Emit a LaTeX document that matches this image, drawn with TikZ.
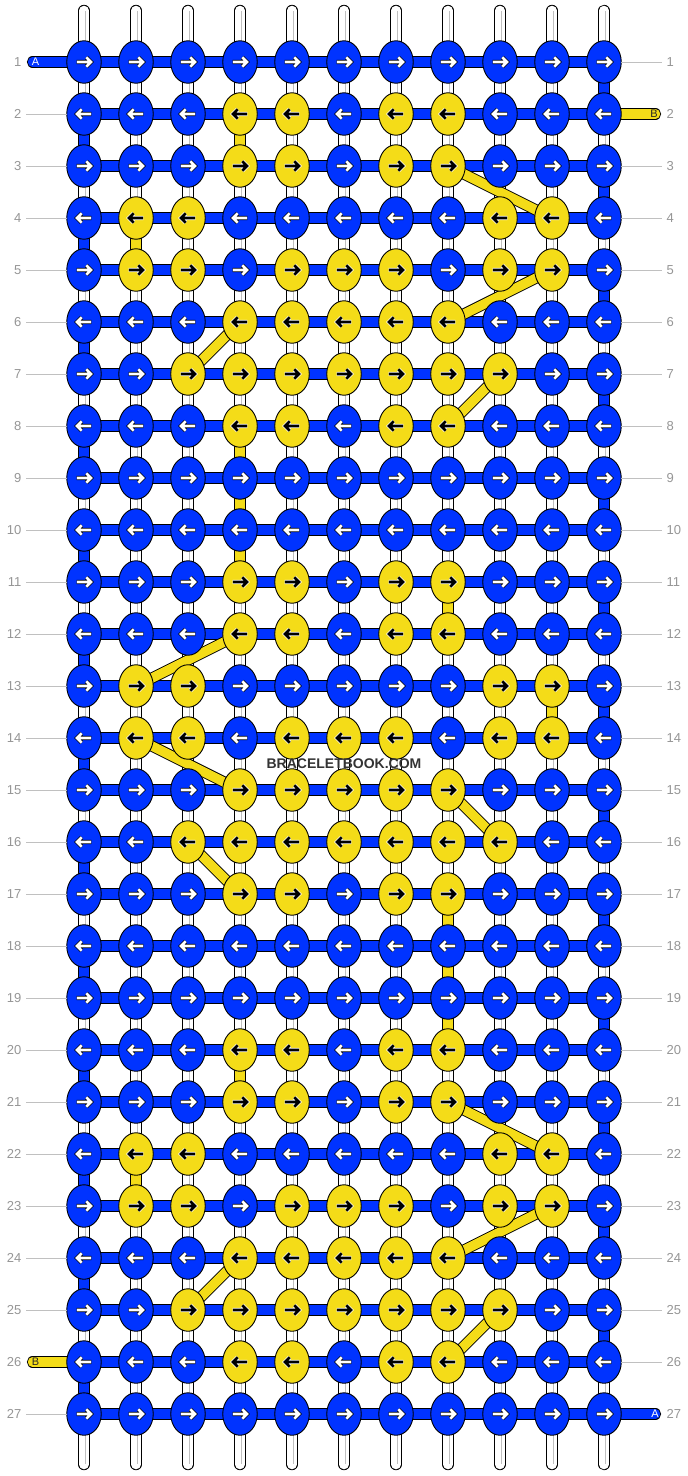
\documentclass[tikz,border=0pt]{standalone}
\usepackage{fontspec}
\setmainfont{Liberation Sans}
\usetikzlibrary{shapes.geometric}
\definecolor{bbblue}{RGB}{0,51,255}
\definecolor{bbyellow}{RGB}{244,220,24}
\definecolor{lblgray}{RGB}{150,150,150}
\definecolor{rulegray}{RGB}{192,192,192}
\definecolor{wmgray}{RGB}{51,51,51}
\tikzset{
  knotbase/.style={ellipse, draw=black, line width=0.9pt, minimum width=34.5pt, minimum height=42.5pt, inner sep=0pt, outer sep=0pt},
  strandout/.style={line width=11.4pt, black, line cap=round},
  strandin/.style={line width=9.6pt, white, line cap=round},
  strandmid/.style={line width=0.8pt, black!25},
  cordout/.style={line width=11.2pt, black},
  cordin/.style={line width=9.4pt},
  endout/.style={line width=11.2pt, black, line cap=round},
  endin/.style={line width=9.4pt, line cap=round},
  arrbg/.style={line width=4.2pt, miter limit=10},
  arrfg/.style={line width=2.6pt},
  rowlbl/.style={font=\fontsize{13}{13}\selectfont, text=lblgray, inner sep=0pt},
  rowrule/.style={rulegray, line width=0.9pt},
  endlbl/.style={font=\fontsize{11}{11}\selectfont, inner sep=0pt},
}
\begin{document}
\begin{tikzpicture}[x=1pt, y=-1pt]
\useasboundingbox (0,0) rectangle (688,1476);
\fill[white] (0,0) rectangle (688,1476);
% grid coordinates
\foreach \r in {1,...,27}{
  \foreach \c in {1,...,11}{
    \coordinate (p-\r-\c) at ({84+52*(\c-1)},{62+52*(\r-1)});
  }
}
% yellow knots
\foreach \r/\cl in {2/{4,5,7,8},3/{4,5,7,8},4/{2,3,9,10},5/{2,3,5,6,7,9,10},6/{4,5,6,7,8},7/{3,4,5,6,7,8,9},8/{4,5,7,8},
  11/{4,5,7,8},12/{4,5,7,8},13/{2,3,9,10},14/{2,3,5,6,7,9,10},15/{4,5,6,7,8},16/{3,4,5,6,7,8,9},17/{4,5,7,8},
  20/{4,5,7,8},21/{4,5,7,8},22/{2,3,9,10},23/{2,3,5,6,7,9,10},24/{4,5,6,7,8},25/{3,4,5,6,7,8,9},26/{4,5,7,8}}{
  \foreach \c in \cl {\expandafter\gdef\csname isY-\r-\c\endcsname{}}
}
% vertical white strands
\foreach \c in {1,...,11}{
  \coordinate (st-\c) at ({84+52*(\c-1)},10.5);
  \coordinate (sb-\c) at ({84+52*(\c-1)},1464.5);
  \coordinate (mt-\c) at ({85.8+52*(\c-1)},11);
  \coordinate (mb-\c) at ({85.8+52*(\c-1)},1464);
  \draw[strandout] (st-\c) -- (sb-\c);
  \draw[strandin] (st-\c) -- (sb-\c);
  \draw[strandmid] (mt-\c) -- (mb-\c);
}
% horizontal cords
\foreach \r in {1,...,27}{
  \draw[cordout] (p-\r-1) -- (p-\r-11);
  \draw[cordin, bbblue] (p-\r-1) -- (p-\r-11);
}
% loose ends
\coordinate (endA1) at (32.5,62);
\coordinate (endB2) at (655.5,114);
\coordinate (endB26) at (32.5,1362);
\coordinate (endA27) at (655.5,1414);
\draw[endout] (endA1) -- (p-1-1);
\draw[endin, bbblue] (endA1) -- (p-1-1);
\draw[endout] (endB2) -- (p-2-11);
\draw[endin, bbyellow] (endB2) -- (p-2-11);
\draw[endout] (endB26) -- (p-26-1);
\draw[endin, bbyellow] (endB26) -- (p-26-1);
\draw[endout] (endA27) -- (p-27-11);
\draw[endin, bbblue] (endA27) -- (p-27-11);
% edge turn-arounds
\foreach \r in {2,4,...,26}{
  \pgfmathtruncatemacro\rn{\r+1}
  \draw[cordout] (p-\r-1) -- (p-\rn-1);
  \draw[cordin, bbblue] (p-\r-1) -- (p-\rn-1);
}
\foreach \r in {1,3,...,25}{
  \pgfmathtruncatemacro\rn{\r+1}
  \draw[cordout] (p-\r-11) -- (p-\rn-11);
  \draw[cordin, bbblue] (p-\r-11) -- (p-\rn-11);
}
% yellow vertical carries
\foreach \c/\r in {4/2,2/4,4/8,4/9,4/10,8/11,10/13,8/17,8/18,8/19,4/20,2/22}{
  \pgfmathtruncatemacro\rn{\r+1}
  \draw[cordout] (p-\r-\c) -- (p-\rn-\c);
  \draw[cordin, bbyellow] (p-\r-\c) -- (p-\rn-\c);
}
% yellow diagonal carries
\foreach \r/\ca/\cb in {3/8/10,5/10/8,6/4/3,7/9/8,12/4/2,14/2/4,15/8/9,16/3/4,21/8/10,23/10/8,24/4/3,25/9/8}{
  \pgfmathtruncatemacro\rn{\r+1}
  \draw[cordout] (p-\r-\ca) -- (p-\rn-\cb);
  \draw[cordin, bbyellow] (p-\r-\ca) -- (p-\rn-\cb);
}
% knots and arrows
\foreach \r in {1,...,27}{
  \pgfmathtruncatemacro\dir{isodd(\r)?1:-1}
  \foreach \c in {1,...,11}{
    \ifcsname isY-\r-\c\endcsname
      \def\kfill{bbyellow}\def\afg{black}\def\abg{white}%
    \else
      \def\kfill{bbblue}\def\afg{white}\def\abg{black}%
    \fi
    \node[knotbase, fill=\kfill] (k-\r-\c) at (p-\r-\c) {};
    \begin{scope}[shift={(p-\r-\c)}, xscale=\dir]
      \draw[arrbg, draw=\abg] (-7.4,0) -- (6.4,0) (2.3,-4.7) -- (7,0) -- (2.3,4.7);
      \draw[arrfg, draw=\afg] (-7.2,0) -- (6.4,0) (2.3,-4.7) -- (7,0) -- (2.3,4.7);
    \end{scope}
  }
}
% row labels and rules
\foreach \r in {1,...,27}{
  \node[rowlbl, anchor=east] (ll-\r) at (21.5,{62+52*(\r-1)}) {\r};
  \node[rowlbl, anchor=west] (lr-\r) at (666.5,{62+52*(\r-1)}) {\r};
}
\foreach \r in {2,...,25,27}{
  \coordinate (rl-\r) at (26,{62+52*(\r-1)});
  \draw[rowrule] (rl-\r) -- (k-\r-1.west);
}
\foreach \r in {1,3,4,...,26}{
  \coordinate (rr-\r) at (662,{62+52*(\r-1)});
  \draw[rowrule] (k-\r-11.east) -- (rr-\r);
}
% end labels
\node[endlbl, text=white] (tA1) at (35.5,62) {A};
\node[endlbl, text=black!85] (tB26) at (35.5,1362) {B};
\node[endlbl, text=black!85] (tB2) at (654,114) {B};
\node[endlbl, text=white] (tA27) at (655,1414) {A};
% watermark
\node[font=\bfseries\fontsize{14}{14}\selectfont, text=wmgray, inner sep=0pt] (wm) at (344,763.5) {BRACELETBOOK.COM};
\end{tikzpicture}
\end{document}
